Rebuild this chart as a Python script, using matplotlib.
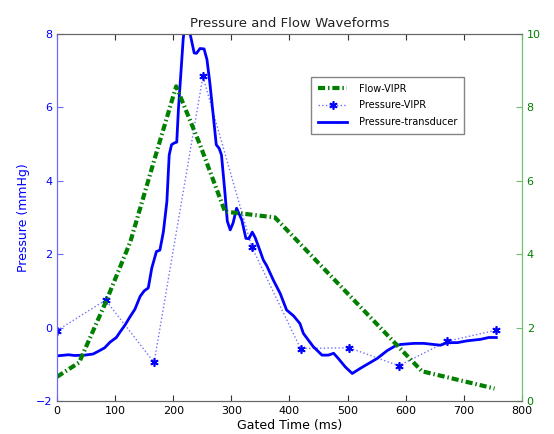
import matplotlib
matplotlib.use('Agg')
import matplotlib.pyplot as plt

# Pressure transducer (mmHg), continuous trace
time_pt = [0, 20, 30, 48, 62, 74, 82, 91, 102, 108, 117, 125, 134, 143, 150, 157,
           163, 171, 177, 183, 189, 193, 197, 202, 206, 209, 213, 217, 220, 224,
           229, 236, 240, 246, 253, 258, 263, 269, 274, 279, 283, 289, 293, 298,
           303, 309, 318, 325, 330, 336, 341, 348, 355, 361, 372, 384, 395, 407,
           418, 424, 441, 456, 467, 476, 484, 496, 508, 522, 536, 551, 568, 582,
           591, 614, 631, 648, 660, 671, 689, 706, 729, 743, 756]
press_pt = [-0.77, -0.74, -0.76, -0.75, -0.72, -0.62, -0.55, -0.40, -0.27, -0.13,
            0.07, 0.28, 0.50, 0.85, 1.00, 1.08, 1.62, 2.07, 2.11, 2.61, 3.43, 4.70,
            4.98, 5.03, 5.05, 5.98, 6.90, 7.84, 8.30, 8.40, 8.00, 7.48, 7.47, 7.60,
            7.59, 7.30, 6.66, 5.75, 4.98, 4.88, 4.70, 3.66, 2.90, 2.66, 2.85, 3.25,
            2.93, 2.43, 2.42, 2.60, 2.45, 2.15, 1.84, 1.68, 1.30, 0.93, 0.48, 0.32,
            0.11, -0.16, -0.52, -0.75, -0.75, -0.70, -0.84, -1.07, -1.25, -1.11,
            -0.98, -0.84, -0.63, -0.50, -0.46, -0.43, -0.43, -0.46, -0.48, -0.41,
            -0.41, -0.36, -0.32, -0.27, -0.27]

# Pressure from VIPR (mmHg)
time_vipr = [0, 83.5, 167, 251, 335, 419, 503, 588, 672, 756]
press_vipr = [-0.08, 0.75, -0.95, 6.84, 2.2, -0.57, -0.55, -1.04, -0.37, -0.07]

# Flow from VIPR (right axis)
time_flow = [0, 38, 84, 126, 168, 205, 246, 289, 375, 628, 753]
flow_vipr = [0.66, 1.05, 2.70, 4.33, 6.60, 8.57, 6.98, 5.16, 5.0, 0.81, 0.34]

fig = plt.figure(figsize=(5.54, 4.34), dpi=100)
ax = fig.add_axes([0.103, 0.076, 0.839, 0.846])
ax2 = ax.twinx()

blue_axis = '#6a6aff'
green_axis = '#6fbf6f'

l1, = ax2.plot(time_flow, flow_vipr, color='#007f00', linewidth=3,
               dashes=(1.7, 0.7, 0.35, 0.7), label='Flow-VIPR')
l2, = ax.plot(time_vipr, press_vipr, color='#7070ff', linestyle=':', linewidth=1,
              marker=(6, 2, 0), markersize=6, markeredgewidth=1.2,
              markeredgecolor='blue', label='Pressure-VIPR')
l3, = ax.plot(time_pt, press_pt, color='blue', linewidth=2, label='Pressure-transducer')

ax.set_xlim(0, 800)
ax.set_ylim(-2, 8)
ax2.set_ylim(0, 10)
ax.set_xticks(range(0, 801, 100))
ax.set_yticks(range(-2, 9, 2))
ax2.set_yticks(range(0, 11, 2))

ax.tick_params(axis='x', direction='in', top=True, labelsize=8, colors='#333333',
               labelcolor='black', length=4)
ax.tick_params(axis='y', direction='in', colors=blue_axis, labelcolor='blue',
               labelsize=8, length=4)
ax2.tick_params(axis='y', direction='in', colors=green_axis, labelcolor='green',
                labelsize=8, length=4)

for a in (ax, ax2):
    a.spines['top'].set_color('#666666')
    a.spines['bottom'].set_color('#666666')
    a.spines['left'].set_color(blue_axis)
    a.spines['right'].set_color(green_axis)

ax.set_xlabel('Gated Time (ms)', fontsize=9, labelpad=2)
ax.set_ylabel('Pressure (mmHg)', fontsize=9, color='blue', labelpad=4)
ax.set_title('Pressure and Flow Waveforms', fontsize=9.5, color='#222222', pad=5)

leg = ax2.legend(handles=[l1, l2, l3], loc='upper left', bbox_to_anchor=(0.547, 0.883),
                 borderaxespad=0, fontsize=7, frameon=True, fancybox=False,
                 edgecolor='#666666', borderpad=0.7, labelspacing=0.7,
                 handlelength=3.0, handletextpad=1.2)
leg.get_frame().set_linewidth(1)

fig.savefig('out.png', dpi=100)
